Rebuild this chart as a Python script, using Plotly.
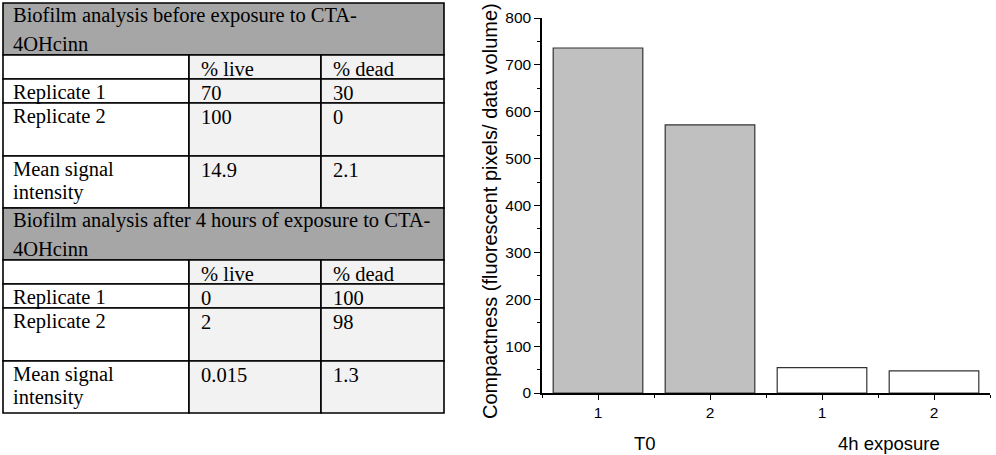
import plotly.graph_objects as go

# ---------------- data ----------------
table_titles = [["Biofilm analysis before exposure to CTA-", "4OHcinn"],
                ["Biofilm analysis after 4 hours of exposure to CTA-", "4OHcinn"]]
col_headers = ["", "% live", "% dead"]
row_labels = [["Replicate 1"], ["Replicate 2"], ["Mean signal", "intensity"]]
before_live = ["70", "100", "14.9"]
before_dead = ["30", "0", "2.1"]
after_live = ["0", "2", "0.015"]
after_dead = ["100", "98", "1.3"]

bar_ticks = ["1", "2", "1", "2"]
bar_groups = ["T0", "T0", "4h exposure", "4h exposure"]
compactness = [736, 572, 54, 47]
y_title = "Compactness (fluorescent pixels/ data volume)"

# ---------------- layout helpers ----------------
W, H = 996, 455
def px(x):
    return x / W
def py(y):
    return 1 - y / H

SERIF = "Liberation Serif, Times New Roman, serif"
SANS = "Liberation Sans, Arial, sans-serif"

fig = go.Figure()

xpos = list(range(1, len(compactness) + 1))
fills = ["#c0c0c0" if g == bar_groups[0] else "#ffffff" for g in bar_groups]
fig.add_trace(go.Bar(
    x=xpos, y=compactness, width=0.8,
    marker=dict(color=fills, line=dict(color="#333333", width=1.2)),
    showlegend=False, hoverinfo="y",
))

shapes = []
annotations = []

# ---------------- table (drawn with shapes + text) ----------------
col_x = [3, 189, 321, 444]
row_h = [52, 24, 24, 53, 52]  # title, header, rep1, rep2, mean
sections = [
    (table_titles[0], before_live, before_dead),
    (table_titles[1], after_live, after_dead),
]
HEAD_FILL = "#a6a6a6"
CELL_FILL = "#f2f2f2"
FS = 20.5
MID = 0.34 * FS  # baseline -> visual middle of line box


def add_lines(lines, xleft, first_base, spacing):
    for k, ln in enumerate(lines):
        base = first_base + k * spacing
        annotations.append(dict(xref="paper", yref="paper", x=px(xleft), y=py(base - MID),
                                xanchor="left", yanchor="middle", align="left", showarrow=False,
                                borderpad=0, text=ln,
                                font=dict(family=SERIF, size=FS, color="black")))


top = 3
for title, live, dead in sections:
    y0, y1 = top, top + row_h[0]
    shapes.append(dict(type="rect", xref="paper", yref="paper",
                       x0=px(col_x[0]), x1=px(col_x[3]), y0=py(y1), y1=py(y0),
                       fillcolor=HEAD_FILL, line=dict(color="black", width=1.6), layer="below"))
    add_lines(title, col_x[0] + 9, y0 + 19, 28.5)
    top = y1
    rows = [[[""], [col_headers[1]], [col_headers[2]]]] + \
           [[row_labels[i], [live[i]], [dead[i]]] for i in range(len(row_labels))]
    for r, row in enumerate(rows):
        y0, y1 = top, top + row_h[r + 1]
        for c in range(3):
            shapes.append(dict(type="rect", xref="paper", yref="paper",
                               x0=px(col_x[c]), x1=px(col_x[c + 1]), y0=py(y1), y1=py(y0),
                               fillcolor="#ffffff" if c == 0 else CELL_FILL,
                               line=dict(color="black", width=1.6), layer="below"))
            if row[c][0]:
                add_lines(row[c], col_x[c] + (9 if c == 0 else 11), y0 + 20.5, 23)
        top = y1

# ---------------- bar chart annotations ----------------
group_names = []
for g in bar_groups:
    if g not in group_names:
        group_names.append(g)
for g in group_names:
    idx = [x for x, gg in zip(xpos, bar_groups) if gg == g]
    annotations.append(dict(xref="x", yref="paper", x=sum(idx) / len(idx) + (-0.08 if g == group_names[0] else 0.1),
                            y=py(443), xanchor="center", yanchor="middle", showarrow=False,
                            text=g, font=dict(family=SANS, size=18.5, color="black")))
annotations.append(dict(xref="paper", yref="paper", x=px(490), y=py(211), textangle=-90,
                        xanchor="center", yanchor="middle", showarrow=False,
                        text=y_title, font=dict(family=SANS, size=20, color="black")))

fig.update_layout(
    width=W, height=H,
    margin=dict(l=0, r=0, t=0, b=0, autoexpand=False),
    paper_bgcolor="white", plot_bgcolor="white",
    shapes=shapes, annotations=annotations,
    bargap=0.2,
    xaxis=dict(domain=[px(542), px(990)], range=[0.5, 4.5],
               tickvals=xpos, ticktext=bar_ticks,
               ticks="outside", ticklen=5, tickwidth=1.2, tickcolor="black",
               minor=dict(tick0=0.5, dtick=1, ticks="outside", ticklen=3, tickwidth=1.2, tickcolor="black"),
               showline=True, linecolor="black", linewidth=1.5, showgrid=False, zeroline=False,
               tickfont=dict(family=SANS, size=15.5, color="black")),
    yaxis=dict(domain=[py(393), py(18)], range=[0, 800], dtick=100,
               ticks="outside", ticklen=6, tickwidth=1.2, tickcolor="black",
               minor=dict(dtick=50, ticks="outside", ticklen=3, tickwidth=1.2, tickcolor="black"),
               showline=True, linecolor="black", linewidth=1.5, showgrid=False, zeroline=False,
               tickfont=dict(family=SANS, size=15.5, color="black")),
)

fig.write_html("out.html", config={"displayModeBar": False},
               post_script="document.body.style.margin='0';")
